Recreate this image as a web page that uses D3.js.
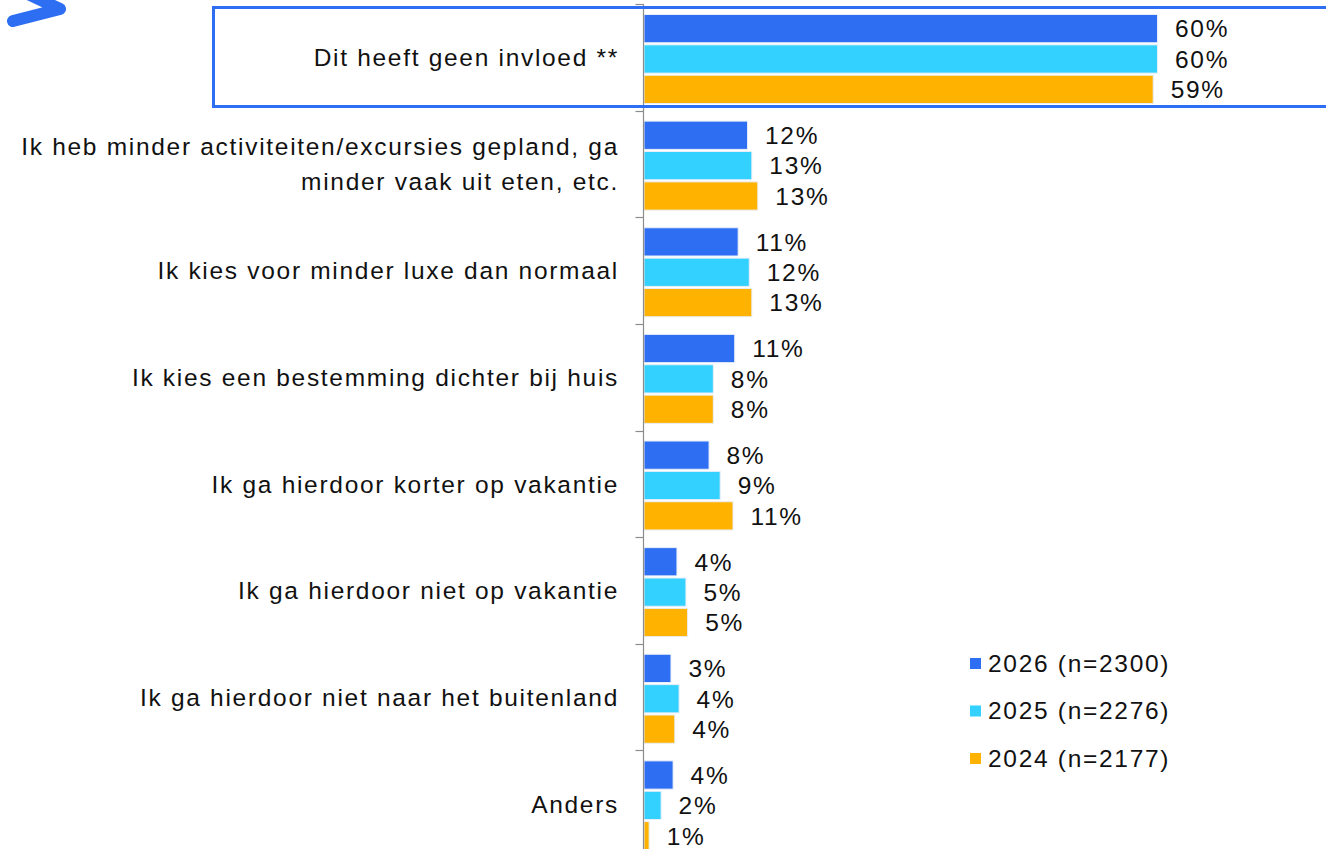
<!DOCTYPE html>
<html><head><meta charset="utf-8">
<script src="https://cdn.jsdelivr.net/npm/d3@7/dist/d3.min.js"></script>
<style>body{margin:0;background:#fff;}svg{display:block;font-family:"Liberation Sans",Arial,sans-serif;}</style>
</head><body><svg id="c" width="1326" height="849"></svg>
<script>
const categories = [
  ["Dit heeft geen invloed **"],
  ["Ik heb minder activiteiten/excursies gepland, ga","minder vaak uit eten, etc."],
  ["Ik kies voor minder luxe dan normaal"],
  ["Ik kies een bestemming dichter bij huis"],
  ["Ik ga hierdoor korter op vakantie"],
  ["Ik ga hierdoor niet op vakantie"],
  ["Ik ga hierdoor niet naar het buitenland"],
  ["Anders"]
];
const seriesNames = ["2026 (n=2300)","2025 (n=2276)","2024 (n=2177)"];
const v2026 = [60.0, 12.1, 11.0, 10.6, 7.6, 3.85, 3.15, 3.4];
const v2025 = [60.0, 12.6, 12.3, 8.1, 8.9, 4.9, 4.1, 2.0];
const v2024 = [59.5, 13.3, 12.6, 8.1, 10.4, 5.1, 3.6, 0.6];
const l2026 = ["60%","12%","11%","11%","8%","4%","3%","4%"];
const l2025 = ["60%","13%","12%","8%","9%","5%","4%","2%"];
const l2024 = ["59%","13%","13%","8%","11%","5%","4%","1%"];
const colors = ["#2E6EF2","#33D1FF","#FFB300"];

const FS = 24.5, LS = "1.7px";
const svg = d3.select("#c");
const x0 = 643.5;
const x = d3.scaleLinear().domain([0,60]).range([x0, 1157]);
const catIdx = categories.map((d,i)=>i);
const y = d3.scaleBand().domain(catIdx).range([4, 857]).padding(0);
const ys = d3.scaleBand().domain([0,1,2]).range([10.5, 99.5]).paddingInner(0.07);

const series = [v2026, v2025, v2024];
const labels = [l2026, l2025, l2024];

// swoosh
svg.append("path").attr("d","M13,21 L60,9 L28,-6")
  .attr("fill","none").attr("stroke","#2E6EF2").attr("stroke-width",12)
  .attr("stroke-linecap","round").attr("stroke-linejoin","round");

// bars
series.forEach((vals, s) => {
  svg.append("g").selectAll("rect").data(vals).join("rect")
    .attr("x", x(0)+0.5)
    .attr("y", (d,i)=> y(i)+ys(s))
    .attr("width", d=> x(d)-x(0))
    .attr("height", ys.bandwidth())
    .attr("fill", colors[s])
    .attr("stroke","#e8eef8").attr("stroke-width",1);
  svg.append("g").selectAll("text").data(vals).join("text")
    .attr("x", d=> x(d)+18)
    .attr("y", (d,i)=> y(i)+ys(s)+ys.bandwidth()/2)
    .attr("dy","0.36em")
    .attr("font-size",FS).attr("letter-spacing",LS).attr("fill","#111")
    .text((d,i)=> labels[s][i]);
});

// axis
const ag = svg.append("g").attr("transform",`translate(${x0},0)`);
ag.append("line").attr("x1",0).attr("x2",0).attr("y1",4).attr("y2",857).attr("stroke","#8c8c8c").attr("stroke-width",1.2);
const bounds = catIdx.map(i=>y(i)).concat([y.range()[1]]);
ag.selectAll("line.t").data(bounds).join("line").attr("class","t")
  .attr("x1",-8).attr("x2",0).attr("y1",d=>Math.round(d)+0.5).attr("y2",d=>Math.round(d)+0.5)
  .attr("stroke","#8c8c8c").attr("stroke-width",1.2);

// category labels
const cl = svg.append("g");
categories.forEach((lines,i)=>{
  const cy = y(i)+y.bandwidth()/2;
  const lh = 35;
  const t = cl.append("text").attr("text-anchor","end").attr("font-size",FS).attr("letter-spacing",LS).attr("fill","#111");
  lines.forEach((ln,k)=>{
    t.append("tspan").attr("x",619).attr("y", cy + (k-(lines.length-1)/2)*lh).attr("dy","0.36em").text(ln);
  });
});

// highlight box
svg.append("rect").attr("x",213.5).attr("y",7.5).attr("width",1130).attr("height",99)
  .attr("fill","none").attr("stroke","#2E6EF2").attr("stroke-width",3);

// legend
const lg = svg.append("g");
seriesNames.forEach((n,s)=>{
  const ly = 663 + s*47.5;
  lg.append("rect").attr("x",970).attr("y",ly-5).attr("width",11).attr("height",11).attr("fill",colors[s]);
  lg.append("text").attr("x",988).attr("y",ly).attr("dy","0.36em").attr("font-size",FS).attr("letter-spacing",LS).attr("fill","#111").text(n);
});
</script></body></html>
